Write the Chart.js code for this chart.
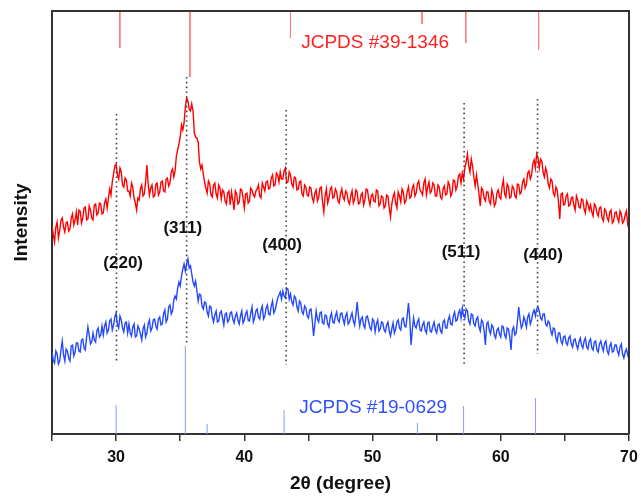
<!DOCTYPE html>
<html>
<head>
<meta charset="utf-8">
<script src="https://cdn.jsdelivr.net/npm/chart.js@4.4.1/dist/chart.umd.min.js"></script>
<style>
  body { margin: 0; background: #fff; }
  canvas { display: block; }
</style>
</head>
<body>
<canvas id="xrdChart" width="641" height="497"></canvas>
<script>
// muestreo del patron: 25 a 70 grados, paso 0.1
const twoThetaStart = 25;
const twoThetaStep = 0.1;

// intensidades (unidades arbitrarias)
const redIntensity = [
  208, 199, 192, 207, 212, 196, 203, 214, 216, 207, 202, 211, 212, 203, 205, 216, 220, 209, 214, 222,
  209, 224, 223, 211, 216, 226, 227, 214, 215, 228, 224, 216, 214, 229, 230, 219, 221, 231, 230, 220,
  221, 231, 235, 226, 236, 245, 239, 252, 260, 268, 270, 259, 255, 266, 262, 249, 247, 256, 254, 243,
  243, 238, 251, 247, 236, 231, 224, 236, 234, 245, 249, 238, 240, 252, 269, 250, 239, 246, 249, 237,
  238, 250, 251, 239, 242, 252, 253, 243, 242, 255, 256, 248, 251, 262, 265, 257, 263, 278, 284, 290,
  297, 309, 304, 311, 327, 336, 333, 325, 323, 330, 323, 301, 297, 296, 292, 272, 265, 269, 260, 252,
  246, 241, 253, 250, 239, 237, 249, 251, 240, 236, 249, 246, 235, 244, 242, 233, 230, 241, 243, 229,
  242, 234, 224, 243, 240, 230, 232, 245, 244, 236, 226, 240, 241, 231, 233, 246, 244, 239, 237, 243,
  245, 249, 238, 236, 251, 247, 243, 252, 253, 245, 246, 256, 259, 248, 249, 261, 259, 252, 262, 255,
  255, 263, 266, 251, 252, 262, 259, 250, 247, 257, 256, 244, 245, 252, 253, 240, 238, 249, 247, 239,
  238, 247, 246, 236, 232, 241, 244, 233, 237, 246, 247, 232, 222, 238, 245, 231, 236, 245, 247, 236,
  237, 245, 242, 233, 231, 240, 245, 237, 234, 243, 241, 233, 230, 238, 243, 231, 235, 244, 242, 230,
  231, 239, 241, 229, 234, 245, 244, 235, 229, 238, 240, 233, 232, 244, 243, 228, 230, 238, 237, 226,
  228, 239, 238, 226, 217, 230, 237, 241, 231, 226, 242, 238, 232, 245, 242, 231, 233, 242, 247, 236,
  237, 246, 249, 238, 241, 250, 253, 244, 242, 239, 251, 255, 239, 247, 252, 241, 243, 251, 249, 238,
  238, 249, 247, 237, 235, 245, 248, 239, 240, 252, 249, 238, 241, 254, 253, 244, 248, 258, 260, 251,
  261, 255, 266, 272, 280, 268, 262, 275, 268, 257, 248, 259, 250, 240, 228, 246, 244, 236, 233, 242,
  242, 233, 230, 244, 239, 228, 231, 241, 244, 237, 235, 247, 254, 240, 237, 250, 247, 236, 237, 248,
  246, 238, 236, 250, 249, 240, 242, 252, 255, 246, 250, 261, 263, 255, 259, 270, 274, 266, 280, 276,
  266, 275, 273, 262, 257, 266, 261, 250, 246, 255, 253, 241, 238, 247, 244, 232, 215, 240, 241, 229,
  230, 238, 240, 228, 229, 236, 237, 229, 224, 238, 234, 227, 226, 235, 234, 225, 221, 233, 230, 224,
  229, 222, 218, 230, 228, 221, 218, 226, 227, 216, 213, 225, 223, 216, 213, 222, 224, 211, 213, 221,
  222, 216, 212, 223, 220, 211, 213, 219, 223, 210, 215
];

const blueIntensity = [
  82, 74, 71, 83, 80, 70, 73, 84, 93, 79, 73, 85, 83, 76, 73, 88, 89, 78, 82, 91,
  91, 83, 82, 94, 95, 86, 84, 97, 107, 99, 90, 92, 101, 94, 92, 103, 106, 97, 99, 108,
  99, 108, 112, 101, 104, 113, 115, 104, 109, 117, 121, 110, 106, 118, 114, 106, 102, 111, 112, 101,
  110, 101, 98, 107, 110, 97, 98, 108, 105, 100, 94, 105, 109, 97, 101, 110, 114, 103, 106, 114,
  115, 108, 105, 115, 117, 109, 110, 120, 124, 112, 115, 127, 129, 120, 123, 134, 138, 135, 146, 152,
  148, 158, 165, 170, 163, 170, 175, 166, 168, 160, 152, 148, 153, 143, 133, 140, 139, 128, 125, 132,
  131, 122, 118, 128, 127, 117, 112, 119, 123, 112, 113, 121, 123, 116, 109, 120, 121, 112, 114, 121,
  122, 115, 111, 118, 121, 114, 110, 118, 123, 111, 114, 120, 123, 114, 113, 121, 127, 112, 116, 123,
  125, 117, 115, 124, 128, 115, 118, 126, 129, 120, 119, 128, 133, 121, 124, 130, 136, 139, 142, 135,
  143, 138, 136, 146, 145, 135, 140, 132, 129, 138, 136, 127, 123, 133, 131, 122, 120, 128, 126, 118,
  116, 124, 125, 113, 98, 110, 123, 115, 112, 121, 122, 111, 110, 119, 118, 110, 107, 117, 121, 112,
  111, 118, 122, 114, 112, 120, 121, 115, 110, 118, 121, 110, 112, 117, 121, 113, 109, 119, 132, 118,
  108, 115, 117, 109, 106, 117, 118, 112, 106, 104, 115, 113, 102, 110, 114, 103, 105, 112, 111, 104,
  102, 109, 112, 103, 98, 105, 111, 101, 105, 112, 114, 106, 104, 115, 116, 108, 107, 118, 131, 115,
  89, 104, 116, 108, 106, 112, 115, 104, 103, 109, 112, 104, 101, 111, 112, 103, 102, 108, 112, 104,
  101, 109, 110, 103, 101, 112, 114, 106, 106, 114, 118, 110, 109, 118, 122, 113, 114, 121, 124, 116,
  126, 118, 116, 125, 123, 113, 110, 120, 119, 110, 108, 115, 117, 107, 103, 114, 112, 103, 89, 110,
  112, 104, 100, 109, 107, 99, 96, 104, 106, 100, 97, 108, 107, 99, 96, 106, 105, 97, 84, 104,
  107, 99, 101, 113, 127, 115, 106, 109, 117, 113, 107, 117, 120, 110, 114, 121, 124, 118, 125, 127,
  123, 116, 114, 120, 120, 110, 108, 113, 111, 103, 99, 106, 105, 96, 92, 101, 101, 93, 90, 97,
  98, 91, 89, 96, 98, 90, 87, 94, 95, 89, 85, 92, 96, 89, 86, 93, 96, 87, 85, 93,
  95, 86, 84, 92, 93, 84, 82, 90, 93, 87, 83, 91, 93, 83, 80, 88, 91, 82, 83, 89,
  89, 83, 79, 87, 90, 80, 76, 82, 85, 79, 75
];

// tarjetas JCPDS (lineas de referencia)
const redRefPos = [30.29, 35.76, 43.6, 53.86, 57.27, 62.95];
const redRefLen = [37, 66, 27, 13, 32, 39];
const blueRefPos = [30.0, 35.4, 37.1, 43.1, 53.5, 57.1, 62.7];
const blueRefLen = [29, 88, 10, 24, 11, 28, 36];

// lineas punteadas de los picos
const peakPos = [30.03, 35.5, 43.26, 57.14, 62.87];
const peakTop = [320, 357, 324, 331, 335];
const peakBottom = [72, 89, 69, 70, 80];

const peakLabels = ['(220)', '(311)', '(400)', '(511)', '(440)'];
const peakLabelX = [30.55, 35.2, 42.95, 56.9, 63.3];
const peakLabelY = [171, 206, 189, 182, 179];

const cardLabels = ['JCPDS #39-1346', 'JCPDS #19-0629'];
const cardColors = ['#ff2020', '#3050ff'];
const cardX = [50.2, 50.05];
const cardY = [391, 26];

const xTicks = [30, 40, 50, 60, 70];
const yMax = 423;

const FONT = "'Liberation Sans', Arial, sans-serif";

function serie(valores) {
    return valores.map((v, i) => ({ x: +(twoThetaStart + i * twoThetaStep).toFixed(1), y: v }));
}

// segmentos verticales separados por null
function segmentos(pos, desde, hasta) {
    const pts = [];
    pos.forEach((x, i) => {
        pts.push({ x: x, y: desde[i] });
        pts.push({ x: x, y: hasta[i] });
        pts.push({ x: x, y: null });
    });
    return pts;
}

const textosPlugin = {
    id: 'textos',
    afterDatasetsDraw(chart) {
        const { ctx, chartArea, scales } = chart;
        ctx.save();
        // marco superior y derecho
        ctx.strokeStyle = '#333';
        ctx.lineWidth = 2;
        ctx.beginPath();
        ctx.moveTo(chartArea.left, chartArea.top);
        ctx.lineTo(chartArea.right, chartArea.top);
        ctx.lineTo(chartArea.right, chartArea.bottom);
        ctx.stroke();

        ctx.textAlign = 'center';
        ctx.textBaseline = 'middle';
        ctx.fillStyle = '#111';
        ctx.font = 'bold 17px ' + FONT;
        peakLabels.forEach((t, i) => {
            ctx.fillText(t, scales.x.getPixelForValue(peakLabelX[i]), scales.y.getPixelForValue(peakLabelY[i]));
        });

        ctx.font = '19px ' + FONT;
        cardLabels.forEach((t, i) => {
            ctx.fillStyle = cardColors[i];
            ctx.fillText(t, scales.x.getPixelForValue(cardX[i]), scales.y.getPixelForValue(cardY[i]));
        });
        ctx.restore();
    }
};

const ctx = document.getElementById('xrdChart').getContext('2d');
new Chart(ctx, {
    type: 'line',
    data: {
        datasets: [
            {
                data: segmentos(peakPos, peakTop, peakBottom),
                borderColor: '#444',
                borderWidth: 1.6,
                borderDash: [1.6, 3.2],
                pointRadius: 0
            },
            {
                data: segmentos(redRefPos, redRefLen.map(() => yMax), redRefLen.map(l => yMax - l)),
                borderColor: '#ff7a7a',
                borderWidth: 1,
                pointRadius: 0
            },
            {
                data: segmentos(blueRefPos, blueRefLen.map(() => 0), blueRefLen),
                borderColor: '#8a98ff',
                borderWidth: 1,
                pointRadius: 0
            },
            {
                data: serie(redIntensity),
                borderColor: '#ff0000',
                borderWidth: 1.4,
                pointRadius: 0
            },
            {
                data: serie(blueIntensity),
                borderColor: '#2448ff',
                borderWidth: 1.4,
                pointRadius: 0
            }
        ]
    },
    options: {
        responsive: false,
        animation: false,
        devicePixelRatio: 1,
        layout: { padding: { top: 11, right: 12, left: 0, bottom: 0 } },
        plugins: { legend: { display: false }, tooltip: { enabled: false } },
        scales: {
            x: {
                type: 'linear',
                min: 25,
                max: 70,
                afterFit(scale) {
                    scale.height = 63;
                    scale.paddingLeft = 0;
                    scale.paddingRight = 0;
                },
                border: { display: true, color: '#333', width: 2 },
                grid: { display: true, drawOnChartArea: false, drawTicks: true, tickLength: 7, color: '#333', lineWidth: 1.5 },
                ticks: {
                    stepSize: 5,
                    autoSkip: false,
                    maxRotation: 0,
                    padding: 7,
                    color: '#111',
                    font: { family: FONT, size: 16, weight: 'bold' },
                    callback: v => xTicks.includes(v) ? String(v) : ''
                },
                title: {
                    display: true,
                    text: '2θ (degree)',
                    color: '#111',
                    padding: { top: 0, bottom: 2 },
                    font: { family: FONT, size: 19, weight: 'bold' }
                }
            },
            y: {
                min: 0,
                max: yMax,
                afterFit(scale) { scale.width = 52; },
                border: { display: true, color: '#333', width: 2 },
                grid: { display: false },
                ticks: { display: false },
                title: {
                    display: true,
                    text: 'Intensity',
                    color: '#111',
                    padding: { top: 10, bottom: 0 },
                    font: { family: FONT, size: 19, weight: 'bold' }
                }
            }
        }
    },
    plugins: [textosPlugin]
});
</script>
</body>
</html>
